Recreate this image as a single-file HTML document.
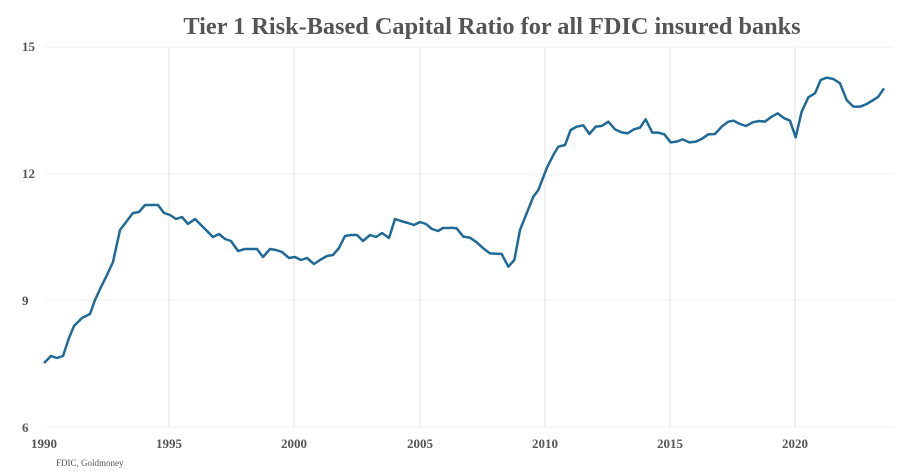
<!DOCTYPE html>
<html><head><meta charset="utf-8"><style>
body{margin:0;background:#fff}
svg{display:block}
text{font-family:"Liberation Serif",serif;fill:#555}
</style></head><body>
<svg width="900" height="473" viewBox="0 0 900 473">
<text x="492" y="34" text-anchor="middle" font-size="24.3" font-weight="bold" fill="#555">Tier 1 Risk-Based Capital Ratio for all FDIC insured banks</text>
<g stroke="#f0f0f0" stroke-width="1">
<line x1="44" y1="47" x2="893" y2="47"/><line x1="44" y1="174" x2="893" y2="174"/>
<line x1="44" y1="300" x2="893" y2="300"/><line x1="44" y1="427" x2="893" y2="427"/>
</g>
<g stroke="#e2e2e2" stroke-width="1">
<line x1="169" y1="47" x2="169" y2="427"/><line x1="294" y1="47" x2="294" y2="427"/>
<line x1="420" y1="47" x2="420" y2="427"/><line x1="545" y1="47" x2="545" y2="427"/>
<line x1="670" y1="47" x2="670" y2="427"/><line x1="795" y1="47" x2="795" y2="427"/>
</g>
<g font-size="13" font-weight="bold">
<text x="22" y="51">15</text><text x="22" y="178">12</text><text x="22" y="305">9</text><text x="22" y="432">6</text>
<text x="44" y="448" text-anchor="middle">1990</text><text x="169" y="448" text-anchor="middle">1995</text>
<text x="294" y="448" text-anchor="middle">2000</text><text x="420" y="448" text-anchor="middle">2005</text>
<text x="545" y="448" text-anchor="middle">2010</text><text x="670" y="448" text-anchor="middle">2015</text>
<text x="795" y="448" text-anchor="middle">2020</text>
</g>
<text x="56" y="466" font-size="9">FDIC, Goldmoney</text>
<g fill="none" stroke="#1f6a96" stroke-width="2.5" stroke-linejoin="round">
<polyline points="44,363 51,356 57,358 63,356 69,338 74,326 82,318 90,314 95,300 101,287 107,275 113,262 120,230 133,213 139,212 145,205 153,205 158,205 164,213 170,215 176,219 182,217 188,224 195,219 201,225 207,231 213,237 219,234 225,239 231,241 238,251 245,249 251,249 257,249 263,257 270,249 276,250 282,252 289,258 295,257 301,260 307,258 314,264 320,260 327,256 333,255 339,248 345,236 351,235 357,235 363,241 370,235 376,237 382,233 389,238 395,219 401,221 408,223 414,225 420,222 426,224 432,229 438,231 443,228 450,228"/>
<polyline transform="translate(450,0) scale(0.33333)" stroke-width="7.5" points="0,683 20,685 40,710 60,713 80,727 100,745 120,760 155,762 175,800 193,780 210,690 230,640 250,590 265,570 290,505 310,465 325,440 345,435 362,390 380,380 400,376 418,402 437,380 455,378 475,365 495,388 515,397 533,400 552,388 570,383 587,358 607,398 625,398 643,403 662,427 680,425 698,418 718,427 738,425 758,415 775,403 795,402 815,380 835,365 850,362 870,372 888,378 908,367 928,363 945,365 965,350 983,340 1003,355 1020,362 1037,412 1055,335 1075,292 1095,280 1112,240 1130,233 1150,237 1170,250 1190,300 1210,320 1230,320 1250,312 1270,300 1285,290 1302,265"/>
</g>
</svg>
</body></html>
